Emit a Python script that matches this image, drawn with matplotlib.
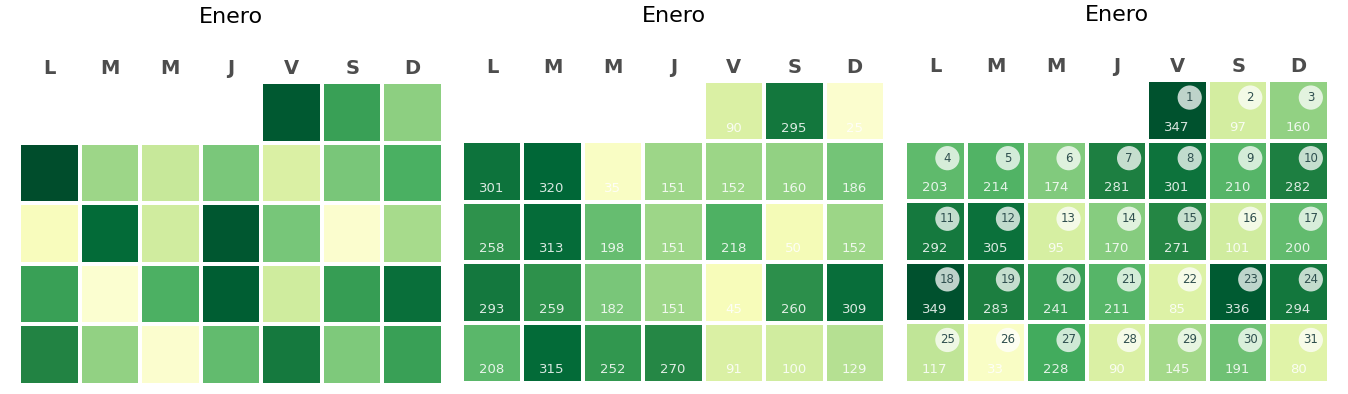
import numpy as np
import matplotlib
matplotlib.use("Agg")
import matplotlib.pyplot as plt
from matplotlib.patches import Circle

title = "Enero"
weekdays = ["L", "M", "M", "J", "V", "S", "D"]
first_weekday = 4  # January starts on Friday (V)

values_a = [338, 240, 165,
            355, 150, 110, 180, 90, 182, 220,
            42, 315, 100, 342, 183, 25, 142,
            240, 22, 219, 332, 102, 245, 307,
            274, 160, 25, 200, 292, 178, 240]
values_b = [90, 295, 25,
            301, 320, 35, 151, 152, 160, 186,
            258, 313, 198, 151, 218, 50, 152,
            293, 259, 182, 151, 45, 260, 309,
            208, 315, 252, 270, 91, 100, 129]
values_c = [347, 97, 160,
            203, 214, 174, 281, 301, 210, 282,
            292, 305, 95, 170, 271, 101, 200,
            349, 283, 241, 211, 85, 336, 294,
            117, 33, 228, 90, 145, 191, 80]

W, H = 1348, 394
fig = plt.figure(figsize=(W / 100, H / 100), dpi=100)

boxes = [(19, 82, 443, 385), (462, 81, 885, 383), (905, 80, 1329, 383)]
cmap = plt.get_cmap("YlGn")
vmin, vmax = 0, 365


def draw(ax, vals, show_values, show_days):
    grid = np.full((5, 7), np.nan)
    for i, v in enumerate(vals):
        pos = first_weekday + i
        grid[pos // 7, pos % 7] = v
    m = np.ma.masked_invalid(grid)
    ax.pcolormesh(np.arange(8), np.arange(6), m, cmap=cmap, vmin=vmin, vmax=vmax,
                  edgecolors="white", linewidth=1.5)
    ax.set_xlim(0, 7)
    ax.set_ylim(5, 0)
    ax.axis("off")
    for c, d in enumerate(weekdays):
        ax.text(c + 0.5, -0.22, d, ha="center", va="center", fontsize=14,
                fontweight="bold", color="#4d4d4d", clip_on=False)
    ax.text(3.5, -1.08, title, ha="center", va="center", fontsize=16,
            color="black", clip_on=False)
    for i, v in enumerate(vals):
        pos = first_weekday + i
        r, c = pos // 7, pos % 7
        if show_values:
            ax.text(c + 0.49, r + 0.78, str(v), ha="center", va="center",
                    fontsize=9.5, color="white", alpha=0.85)
        if show_days:
            ax.add_patch(Circle((c + 0.7, r + 0.29), 0.2, facecolor="white",
                                alpha=0.75, edgecolor="none"))
            ax.text(c + 0.7, r + 0.29, str(i + 1), ha="center", va="center",
                    fontsize=8.5, color="#2f4f4f")


for (x0, y0, x1, y1), vals, sv, sd in zip(boxes, [values_a, values_b, values_c],
                                          [False, True, True], [False, False, True]):
    ax = fig.add_axes([x0 / W, (H - y1) / H, (x1 - x0) / W, (y1 - y0) / H])
    draw(ax, vals, sv, sd)

fig.savefig("out.png", dpi=100)
